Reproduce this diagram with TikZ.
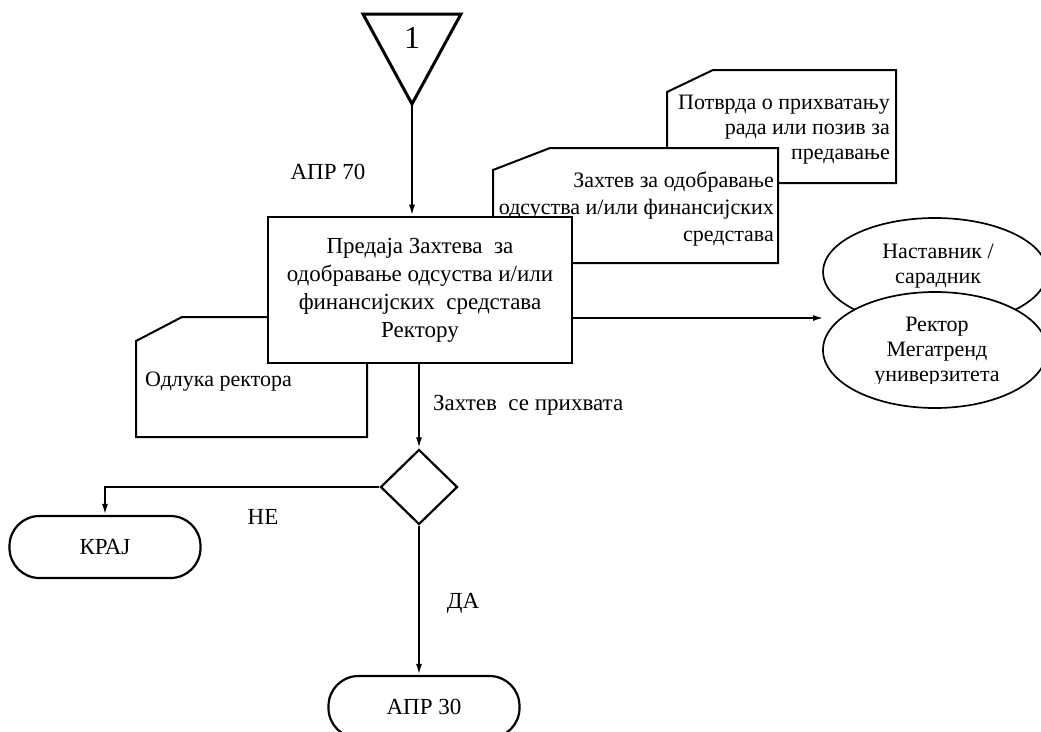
\documentclass[tikz,border=0pt]{standalone}
\usepackage{fontspec}
\setmainfont{Liberation Serif}
\usetikzlibrary{shapes.geometric,arrows.meta}
\begin{document}
\begin{tikzpicture}[x=1pt,y=-1pt,
  txt/.style={font=\fontsize{23}{25}\selectfont, inner sep=0pt},
  doctxt/.style={font=\fontsize{22}{25}\selectfont, inner sep=0pt},
  arr/.style={line width=2pt, -{Latex[length=11pt,width=6pt]}},
  docshape/.style={line width=2pt, fill=white, line join=miter},
  oval/.style={ellipse, draw, line width=1.7pt, fill=white, minimum width=224pt, inner sep=0pt},
  term/.style={draw, line width=2.2pt, rounded corners=30pt, fill=white, minimum width=191pt, minimum height=62pt, txt}]
\useasboundingbox (0,0) rectangle (1041,731);
\clip (0,0) rectangle (1041,731);

% connector 1
\draw[line width=3pt, line join=miter] (363,14) -- (461,14) -- (412,104) -- cycle;
\coordinate (tri) at (412,104);
\node[font=\fontsize{32}{32}\selectfont, inner sep=0pt] (one) at (412,38) {1};

% document: Potvrda
\draw[docshape] (667,148) -- (667,92) -- (713,70) -- (896,70) -- (896,183) -- (778,183);
\node[doctxt, align=right, anchor=east] (potvrda) at (890,130) {Потврда о прихватању\\рада или позив за\\предавање};

% document: Zahtev
\draw[docshape] (493,216) -- (493,170) -- (550,148) -- (778,148) -- (778,263) -- (571,263);
\node[doctxt, align=right, anchor=east, font=\fontsize{22}{27}\selectfont] (zahtev) at (774,209) {Захтев за одобравање\\одсуства и/или финансијских\\средстава};

% document: Odluka
\draw[docshape] (268,317) -- (182,317) -- (136,341) -- (136,437) -- (367,437) -- (367,362);
\node[doctxt, anchor=west] (odluka) at (145,382) {Одлука ректора};

% main process
\node[draw, line width=2.6pt, fill=white, minimum width=304pt, minimum height=146pt, align=center, txt, font=\fontsize{23}{28}\selectfont] (main) at (420,290)
  {Предаја Захтева\ \ за\\одобравање одсуства и/или\\финансијских\ \ средстава\\Ректору};

\node[txt] (apr70) at (328,172) {АПР 70};

% ovals
\node[oval, minimum height=108pt] (nast) at (935,272) {};
\node[doctxt, align=center] (nasttxt) at (938,266) {Наставник /\\сарадник};
\node[oval, minimum height=116pt] (rektor) at (935,350) {};
\begin{scope}
  \clip (820,290) rectangle (1041,383);
  \node[doctxt, align=center] (rektortxt) at (937,352) {Ректор\\Мегатренд\\универзитета};
\end{scope}
\coordinate (rin) at (824,318);

% decision
\node[diamond, draw, line width=2.2pt, minimum width=77pt, minimum height=75pt, inner sep=0pt] (dia) at (419,487) {};
\node[txt, anchor=west] (prihvata) at (433,405) {Захтев\ \ се прихвата};

% terminals
\node[term] (kraj) at (105,547) {КРАЈ};
\node[term] (apr30) at (424,707) {АПР 30};

\node[txt] (ne) at (263,517) {НЕ};
\node[txt] (da) at (463,603) {ДА};

% connectors
\draw[arr] (tri) -- (tri |- main.north);
\draw[arr] (main.east |- rin) -- (rin);
\draw[arr] (main.south -| dia.north) -- (dia.north);
\draw[arr] (dia.west) -| (kraj.north);
\draw[arr] (dia.south) -- (dia.south |- apr30.north);
\end{tikzpicture}
\end{document}
